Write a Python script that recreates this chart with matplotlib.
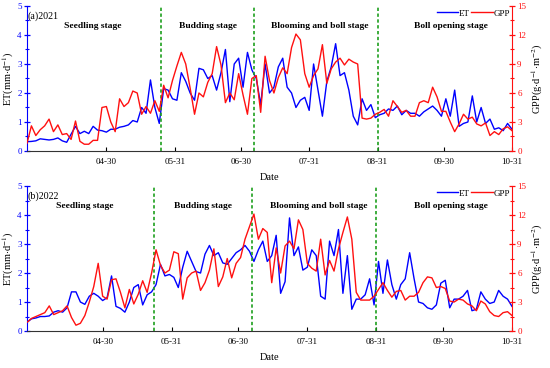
import numpy as np
import pandas as pd
import matplotlib
matplotlib.use('Agg')
import matplotlib.pyplot as plt
import matplotlib.dates as mdates

plt.rcParams['font.family'] = ['Liberation Serif', 'DejaVu Serif']
plt.rcParams['mathtext.fontset'] = 'stix'

#==============================================================================
# data (one value every 2 days)
#==============================================================================

start_2021 = '2021-03-25'
start_2022 = '2022-03-27'

et_2021 = [0.32, 0.33, 0.35, 0.42, 0.40, 0.38, 0.40, 0.45, 0.35, 0.30,
           0.58, 0.85, 0.60, 0.68, 0.60, 0.85, 0.72, 0.70, 0.65, 0.75,
           0.75, 0.82, 0.85, 0.90, 1.05, 1.00, 1.50, 1.30, 2.45, 1.50,
           0.95, 2.15, 2.10, 1.80, 1.75, 2.70, 2.40, 2.00,
           1.75, 2.85, 2.80, 2.50, 2.60, 2.10, 2.70, 3.50, 1.70, 3.00,
           3.20, 2.20, 3.40, 2.80, 2.50, 1.60, 3.00, 2.00, 2.20, 2.90,
           3.20, 2.20, 2.00, 1.50, 1.75, 1.85, 1.40, 3.00, 2.10, 1.20,
           2.40, 2.90, 3.70, 2.60, 2.70, 2.10, 1.20,
           0.90, 1.80, 1.40, 1.60, 1.15, 1.25, 1.30, 1.45, 1.40, 1.55,
           1.25, 1.40, 1.30, 1.30, 1.20, 1.35, 1.45, 1.55, 1.40, 1.20,
           1.80, 1.20, 2.10, 0.85, 0.95, 1.00, 1.90, 1.00, 1.50, 0.95,
           1.10, 0.75, 0.80, 0.70, 0.95, 0.75]

gpp_2021 = [0.8, 2.6, 1.6, 2.2, 2.6, 3.3, 2.0, 2.7, 1.7, 1.8,
            1.2, 3.1, 1.0, 0.7, 0.7, 1.1, 1.1, 4.5, 4.6, 3.0,
            2.0, 5.4, 4.6, 5.0, 6.2, 6.0, 3.8, 4.6, 3.9, 5.2,
            4.1, 6.8, 5.5, 7.3, 8.8, 10.2, 9.0, 6.5,
            3.8, 6.0, 5.6, 7.1, 8.0, 10.8, 8.9, 5.0, 6.0, 5.3,
            8.0, 5.8, 3.8, 7.5, 7.8, 4.0, 9.8, 7.3, 6.0, 7.6,
            8.6, 8.0, 10.7, 12.1, 11.5, 8.0, 6.6, 7.8, 8.5, 11.0,
            7.0, 8.5, 9.2, 9.6, 8.9, 9.5, 9.2,
            9.0, 3.4, 3.3, 3.4, 3.8, 4.0, 4.3, 3.6, 5.2, 4.6,
            4.0, 4.2, 3.6, 3.6, 5.0, 5.2, 5.0, 6.6, 5.6, 4.1,
            4.1, 3.0, 2.0, 2.8, 3.8, 3.3, 3.5, 2.8, 2.6, 2.9,
            1.6, 2.0, 1.7, 2.3, 2.5, 2.1]

et_2022 = [0.30, 0.42, 0.45, 0.50, 0.50, 0.52, 0.65, 0.70, 0.65, 0.80,
           1.35, 1.35, 1.00, 0.92, 1.20, 1.30, 1.20, 1.05, 1.15, 1.90,
           0.85, 0.78, 0.65, 1.00, 1.50, 1.60, 0.90, 1.25, 1.35, 1.60,
           2.30, 1.90, 1.95, 1.85, 1.50, 2.20, 2.75, 2.40, 2.05, 2.00,
           2.65, 2.95, 2.60, 2.70, 2.35, 2.30, 2.50, 2.70, 2.80, 2.95,
           2.75, 2.40, 2.80, 3.10, 2.40, 2.60, 3.30, 1.30, 1.70, 3.90,
           2.60, 2.90, 2.10, 2.20, 2.80, 2.60, 1.20, 1.10, 3.10, 2.60,
           3.50, 1.30, 2.60, 0.75, 1.10, 1.10, 1.25, 1.80, 0.90, 2.40,
           1.30, 2.45, 1.60, 1.10, 1.60, 1.80, 2.70, 1.80, 1.00, 0.95,
           0.80, 0.75, 0.90, 1.65, 1.75, 0.80, 1.10, 1.10, 1.20, 1.40,
           0.70, 0.75, 1.35, 1.10, 0.95, 1.00, 1.40, 1.20, 1.10, 0.85]

gpp_2022 = [0.9, 1.3, 1.5, 1.7, 1.9, 2.6, 1.7, 1.9, 2.1, 2.6,
            1.4, 0.6, 0.8, 1.6, 3.0, 4.6, 7.0, 3.6, 3.3, 5.3,
            5.4, 4.0, 2.4, 4.3, 2.8, 3.8, 5.2, 4.0, 6.0, 8.4,
            6.8, 6.0, 6.3, 8.2, 8.0, 3.3, 5.5, 6.0, 6.2, 4.2,
            5.0, 6.3, 8.5, 4.6, 5.6, 7.5, 5.5, 7.0, 7.6, 9.5,
            10.8, 12.1, 9.5, 10.6, 10.2, 5.0, 8.6, 6.0, 8.8, 9.3,
            8.5, 11.5, 10.5, 7.0, 6.5, 6.2, 9.5, 5.8, 7.3, 6.2,
            8.5, 10.2, 11.8, 9.5, 4.0, 3.2, 3.2, 3.2, 3.6, 4.3,
            5.0, 4.2, 3.5, 4.1, 4.2, 3.2, 3.6, 3.6, 4.0, 5.0,
            5.6, 5.5, 4.5, 4.6, 4.4, 3.1, 3.0, 3.3, 3.2, 2.8,
            2.6, 2.1, 3.1, 2.8, 2.0, 1.6, 1.5, 1.9, 2.0, 1.6]

stage_names = ['Seedling stage', 'Budding stage',
               'Blooming and boll stage', 'Boll opening stage']
stage_bounds_2021 = ['2021-05-25', '2021-07-06', '2021-08-31']
stage_bounds_2022 = ['2022-05-23', '2022-07-06', '2022-08-31']
tick_days = ['04-30', '05-31', '06-30', '07-31', '08-31', '09-30', '10-31']

#==============================================================================
# styles
#==============================================================================

etBlue = '#0000FF'
gppRed = '#FF1010'
stageGreen = '#1EA01E'

line_et = {'linewidth': 1.0, 'color': etBlue}
line_gpp = {'linewidth': 1.0, 'color': gppRed}
line_stage = {'linewidth': 1.2, 'color': stageGreen, 'linestyle': (0, (2.0, 1.5))}

font_stage = {'size': 6.8, 'weight': 'bold'}
font_label = {'size': 7.5}
tick_size = 6.5

#==============================================================================
# plot
#==============================================================================

fig = plt.figure(figsize=(5.5, 3.68), dpi=100)

panels = [
    ('(a)2021', start_2021, et_2021, gpp_2021, stage_bounds_2021, '2021',
     [0.0491, 0.5897, 0.8818, 0.394], [93, 208, 319.5, 451], 0.86),
    ('(b)2022', start_2022, et_2022, gpp_2022, stage_bounds_2022, '2022',
     [0.0491, 0.1005, 0.8818, 0.394], [85, 203, 318.5, 451], 0.86),
]

for tag, start, et, gpp, bounds, year, pos, stage_x, stage_y in panels:
    dates_et = pd.date_range(start, periods=len(et), freq='2D')
    dates_gpp = pd.date_range(start, periods=len(gpp), freq='2D')

    ax = fig.add_axes(pos)
    ax2 = ax.twinx()

    l1, = ax.plot(dates_et, et, **line_et, label='ET')
    l2, = ax2.plot(dates_gpp, gpp, **line_gpp, label='GPP')

    for b in bounds:
        ax.axvline(pd.Timestamp(b), **line_stage)

    ax.set_xlim(pd.Timestamp(start), pd.Timestamp(year + '-10-31'))
    ax.set_ylim(0, 5)
    ax2.set_ylim(0, 15)

    ax.set_xticks([pd.Timestamp(year + '-' + d) for d in tick_days])
    ax.xaxis.set_major_formatter(mdates.DateFormatter('%m-%d'))
    ax.set_yticks(np.arange(0, 6, 1))
    ax.set_yticks(np.arange(0.5, 5, 1), minor=True)
    ax2.set_yticks(np.arange(0, 16, 3))
    ax2.set_yticks(np.arange(1.5, 15, 3), minor=True)

    ax.tick_params(axis='x', direction='in', length=3, width=0.8,
                   labelsize=tick_size, pad=5)
    ax.tick_params(axis='y', which='major', direction='inout', length=4.5,
                   width=0.9, colors=etBlue, labelsize=tick_size, pad=1.5)
    ax.tick_params(axis='y', which='minor', direction='inout', length=2.5,
                   width=0.8, colors=etBlue)
    ax2.tick_params(axis='y', which='major', direction='inout', length=4.5,
                    width=0.9, colors=gppRed, labelsize=tick_size, pad=1.5)
    ax2.tick_params(axis='y', which='minor', direction='inout', length=2.5,
                    width=0.8, colors=gppRed)

    ax.spines['top'].set_visible(False)
    ax.spines['right'].set_visible(False)
    ax.spines['left'].set_color(etBlue)
    ax.spines['bottom'].set_color('#333333')
    ax2.spines['top'].set_visible(False)
    ax2.spines['left'].set_visible(False)
    ax2.spines['bottom'].set_visible(False)
    ax2.spines['right'].set_color(gppRed)

    ax.set_ylabel(r'ET(mm$\cdot$d$^{-1}$)', labelpad=1, **font_label)
    ax2.set_ylabel(r'GPP(g$\cdot$d$^{-1}$$\cdot$m$^{-2}$)', labelpad=3,
                   **font_label)
    ax.set_xlabel('Date', labelpad=5, **font_label)

    ax.text(0.002, 0.93, tag, transform=ax.transAxes, fontsize=7.2,
            ha='left', va='center')

    for name, sx in zip(stage_names, stage_x):
        ax.annotate(name, (sx / 550.0, stage_y), xycoords=('figure fraction', 'axes fraction'),
                    ha='center', va='center', **font_stage)

    ax2.legend(handles=[l1, l2], loc='upper right', bbox_to_anchor=(1.0, 0.99),
               ncol=2, frameon=False, fontsize=6.5, handlelength=2.4,
               handletextpad=0.1, columnspacing=0.1, borderaxespad=0.0,
               borderpad=0.2)

fig.savefig('out.png', dpi=100)
